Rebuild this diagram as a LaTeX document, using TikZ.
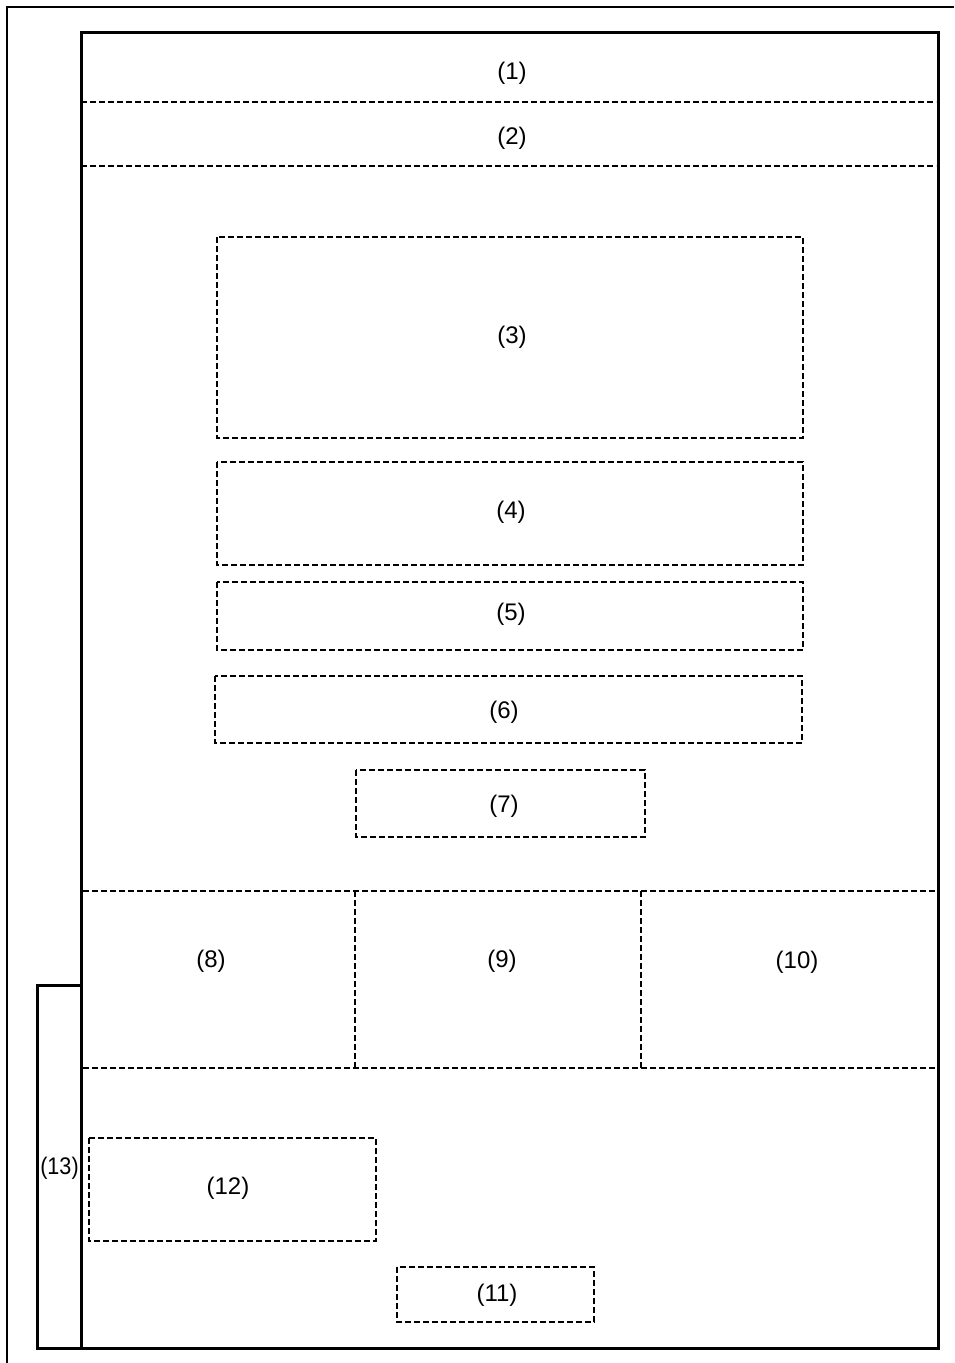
\documentclass[tikz,border=0pt]{standalone}
\usepackage{fontspec}
\setmainfont{Liberation Sans}

\begin{document}
	\begin{tikzpicture}[x=1pt, y=-1pt,
		frame/.style={line width=1.6pt},
		sheet/.style={line width=3pt},
		part/.style={line width=1.3pt, dash pattern=on 6pt off 3pt},
		tag/.style={font=\fontsize{24}{28}\selectfont, inner sep=0pt}]
		\useasboundingbox (0,0) rectangle (954,1363);
		
		\draw[frame] (7,1363) -- (7,7) -- (954,7);
		\draw[sheet] (81,32) rectangle (938,1348);
		\draw[sheet] (81,985) -- (37,985) -- (37,1348) -- (81,1348);
		
		\draw[part] (81,102) -- (936,102);
		\draw[part] (81,166) -- (936,166);
		\draw[part] (83,891) -- (936,891);
		\draw[part] (83,1068) -- (936,1068);
		\draw[part] (355,891) -- (355,1068);
		\draw[part] (641,891) -- (641,1068);
		
		\draw[part] (217,237) rectangle (803,438);
		\draw[part] (217,462) rectangle (803,565);
		\draw[part] (217,582) rectangle (803,650);
		\draw[part] (215,676) rectangle (802,743);
		\draw[part] (356,770) rectangle (645,837);
		\draw[part] (89,1138) rectangle (376,1241);
		\draw[part] (397,1267) rectangle (594,1322);
		
		\node[tag] (l1) at (512,73) {(1)};
		\node[tag] (l2) at (512,138) {(2)};
		\node[tag] (l3) at (512,337) {(3)};
		\node[tag] (l4) at (511,512) {(4)};
		\node[tag] (l5) at (511,614) {(5)};
		\node[tag] (l6) at (504,712) {(6)};
		\node[tag] (l7) at (504,806) {(7)};
		\node[tag] (l8) at (211,961) {(8)};
		\node[tag] (l9) at (502,961) {(9)};
		\node[tag] (l10) at (797,962) {(10)};
		\node[tag] (l11) at (497,1295) {(11)};
		\node[tag] (l12) at (228,1188) {(12)};
		\node[tag, xscale=0.9] (l13) at (59.5,1168) {(13)};
	\end{tikzpicture}
\end{document}
